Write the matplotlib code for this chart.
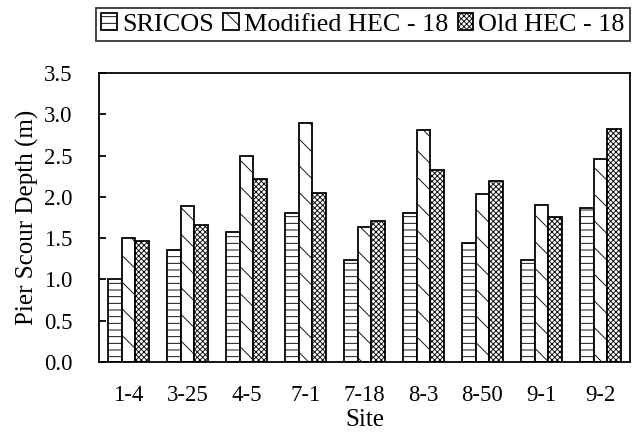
import numpy as np
import matplotlib.pyplot as plt

DPI = 80
FIGSIZE = (632 / DPI, 432 / DPI)
FONT = "Liberation Serif"
FS_TICKS = 20.5
FS_LABELS = 22.5
FS_LEGEND = 23.5
BAR_W = 0.23
LW = 1.6

sites = ["1-4", "3-25", "4-5", "7-1", "7-18", "8-3", "8-50", "9-1", "9-2"]
sricos = [1.00, 1.36, 1.57, 1.81, 1.23, 1.80, 1.44, 1.24, 1.87]
modified_hec18 = [1.50, 1.89, 2.49, 2.89, 1.63, 2.81, 2.04, 1.90, 2.46]
old_hec18 = [1.47, 1.66, 2.22, 2.05, 1.71, 2.33, 2.19, 1.76, 2.82]
series_names = ["SRICOS", "Modified HEC - 18", "Old HEC - 18"]
hatches = ["--", "\\", "xxxxx"]

plt.rcParams["font.family"] = [FONT, "DejaVu Serif"]
plt.rcParams["hatch.linewidth"] = 0.8

fig = plt.figure(figsize=FIGSIZE, dpi=DPI)
ax = fig.add_axes([99 / 632, 70 / 432, 531 / 632, 289 / 432])

x = np.arange(len(sites))
series = [sricos, modified_hec18, old_hec18]
for i, (vals, name, h) in enumerate(zip(series, series_names, hatches)):
    ax.bar(x + (i - 1) * BAR_W, vals, BAR_W, color="white", edgecolor="black",
           linewidth=LW, hatch=h, label=name)

yt = np.arange(0, 3.51, 0.5)
ax.set_xlim(-0.5, len(sites) - 0.5)
ax.set_ylim(0, 3.5)
ax.set_yticks(yt)
ax.set_yticklabels([f"{v:.1f}" for v in yt])
ax.set_xticks(x)
ax.set_xticklabels(sites)
ax.tick_params(axis="y", direction="in", length=6, width=LW, labelsize=FS_TICKS, pad=24)
ax.tick_params(axis="x", length=0, labelsize=FS_TICKS, pad=21)
for s in ax.spines.values():
    s.set_linewidth(LW)
ax.set_xlabel("Site", fontsize=FS_LABELS, labelpad=2)
ax.set_ylabel("Pier Scour Depth (m)", fontsize=FS_LABELS, labelpad=4)

leg = fig.legend(loc="upper left", bbox_to_anchor=(96 / 632, 1 - 49 / 432, 534 / 632, 41 / 432),
                 mode="expand", ncol=3, fontsize=FS_LEGEND, frameon=True, fancybox=False,
                 handlelength=0.6, handleheight=0.6, handletextpad=0.2, columnspacing=0.3,
                 borderaxespad=0, borderpad=0.2)
leg.get_frame().set_edgecolor("black")
leg.get_frame().set_linewidth(LW)

fig.savefig("out.png", dpi=DPI)
